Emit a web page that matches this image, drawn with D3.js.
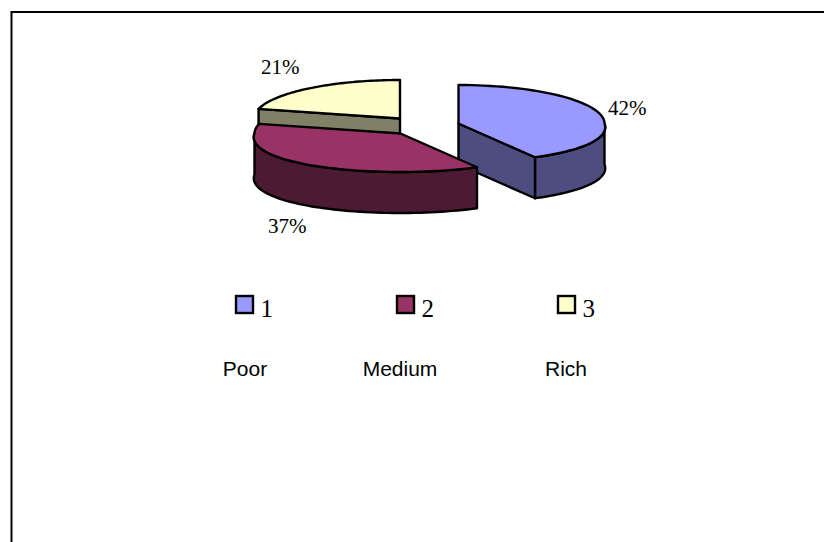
<!DOCTYPE html>
<html>
<head>
<meta charset="utf-8">
<script src="https://cdn.jsdelivr.net/npm/d3@7"></script>
<style>
html, body { margin: 0; padding: 0; background: #fff; }
svg { display: block; }
</style>
</head>
<body>
<svg id="chart" width="824" height="542"></svg>
<script>
// Income groups shown as an exploded 3D pie
const categories = ["1", "2", "3"];
const groupNames = ["Poor", "Medium", "Rich"];
const shares = [42, 37, 21];
const topColors = ["#9999ff", "#993366", "#ffffcc"];
const wallColors = ["#4d4d80", "#4d1a33", "#808066"];

const svg = d3.select("#chart");
const SERIF = "'Liberation Serif', serif";
const SANS = "'Liberation Sans', sans-serif";

// Chart frame: its top and left edges run off the page
svg.append("path")
  .attr("d", d3.line()([[11.5, 544], [11.5, 12], [826, 12]]))
  .attr("fill", "none").attr("stroke", "#000").attr("stroke-width", 2);

// Projection of the tilted pie; the near half spreads a little wider
const rx = 146, ry = 38.5, depth = 41, nearWiden = 0.1;
const project = (c, a, drop = 0) => {
  const s = Math.sin(a), k = Math.cos(a);
  return [c[0] + rx * s * (1 - nearWiden * Math.min(k, 0)), c[1] - ry * k + drop];
};

const slices = d3.pie().sort(null).value(d => d)(shares);

// Exploded position of each slice's apex
const apexes = [[458.5, 123.5], [400.5, 133.5], [400, 118.5]];

const outline = d3.line();
const arcPoints = (c, a0, a1, drop = 0) =>
  d3.range(0, 61).map(i => project(c, a0 + (a1 - a0) * i / 60, drop));

const drawFace = (pts, fill) => svg.append("path")
  .attr("d", outline(pts) + "Z")
  .attr("fill", fill)
  .attr("stroke", "#000")
  .attr("stroke-width", 2.4)
  .attr("stroke-linejoin", "round");

// Flat cut face running from the apex out to the rim at angle a
function drawCut(i, a) {
  const c = apexes[i];
  const p = project(c, a);
  drawFace([c, p, [p[0], p[1] + depth], [c[0], c[1] + depth]], wallColors[i]);
}

function drawSlice(i, cutAngle) {
  const { startAngle: a0, endAngle: a1 } = slices[i];
  const c = apexes[i];

  // Rim wall, limited to the front half of the ellipse
  const front0 = Math.max(a0, Math.PI / 2), front1 = Math.min(a1, 3 * Math.PI / 2);
  if (front1 > front0) {
    drawFace(arcPoints(c, front0, front1).concat(arcPoints(c, front1, front0, depth)), wallColors[i]);
  }
  if (cutAngle !== undefined) drawCut(i, cutAngle);

  // Top face
  drawFace([c].concat(arcPoints(c, a0, a1)), topColors[i]);
}

// Back to front: the medium slice overlaps the other two
drawSlice(0, slices[0].endAngle);
drawSlice(2, slices[2].startAngle);
drawSlice(1);

// Percentage labels beside each slice
const labelAnchors = [[608, 115], [268, 233], [261, 74]];
svg.selectAll("text.pct").data(shares).join("text")
  .attr("class", "pct")
  .attr("x", (d, i) => labelAnchors[i][0])
  .attr("y", (d, i) => labelAnchors[i][1])
  .attr("font-family", SERIF).attr("font-size", 21).attr("fill", "#000")
  .text(d => d + "%");

// Legend swatches and their keys
const legendX = d3.scalePoint().domain(categories).range([236, 558]);
const legend = svg.selectAll("g.key").data(categories).join("g")
  .attr("class", "key")
  .attr("transform", d => `translate(${legendX(d)},0)`);
legend.append("rect")
  .attr("x", 0).attr("y", 296).attr("width", 17).attr("height", 17)
  .attr("fill", (d, i) => topColors[i])
  .attr("stroke", "#000").attr("stroke-width", 2.4);
legend.append("text")
  .attr("x", 24.5).attr("y", 317)
  .attr("font-family", SERIF).attr("font-size", 25).attr("fill", "#000")
  .text(d => d);

// Group names under the legend
const nameX = d3.scaleOrdinal().domain(groupNames).range([245, 400, 566]);
svg.selectAll("text.name").data(groupNames).join("text")
  .attr("class", "name")
  .attr("x", d => nameX(d)).attr("y", 376)
  .attr("text-anchor", "middle")
  .attr("font-family", SANS).attr("font-size", 21).attr("fill", "#000")
  .text(d => d);
</script>
</body>
</html>
